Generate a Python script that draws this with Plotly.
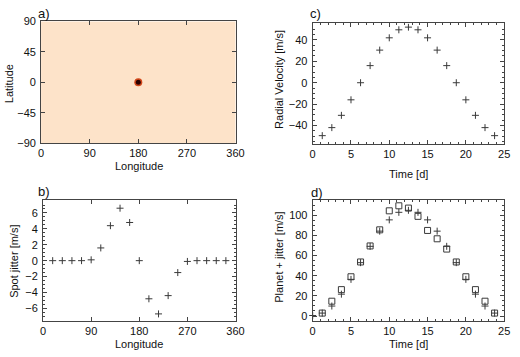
import plotly.graph_objects as go

# ---------------- data ----------------
# panel a: spot position on the stellar map
spot_lon = [180]
spot_lat = [0]

# panel b: spot jitter vs longitude
jit_lon = [18, 36, 54, 72, 90, 108, 126, 144, 162, 180, 198, 216, 234, 252, 270, 288, 306, 324, 342]
jit_val = [0, 0, 0, 0, 0.1, 1.6, 4.4, 6.6, 4.8, 0, -4.8, -6.7, -4.4, -1.5, -0.1, 0, 0, 0, 0]

# panel c: radial velocity vs time
rv_time = [1.25, 2.5, 3.75, 5, 6.25, 7.5, 8.75, 10, 11.25, 12.5, 13.75, 15, 16.25, 17.5, 18.75, 20, 21.25, 22.5, 23.75]
rv_val = [-49.5, -42, -30.5, -16, 0, 16, 30.5, 42, 49.5, 52, 49.5, 42, 30.5, 16, 0, -16, -30.5, -42, -49.5]

# panel d: planet (+) and planet + jitter (squares)
pl_time = [0, 1.25, 2.5, 3.75, 5, 6.25, 7.5, 8.75, 10, 11.25, 12.5, 13.75, 15, 16.25, 17.5, 18.75, 20, 21.25, 22.5, 23.75]
pl_val = [0.5, 2.9, 9.9, 21.7, 36.4, 53, 69.2, 84.3, 95.5, 103, 105, 103, 95.5, 84.3, 69.2, 53, 36.4, 21.7, 9.9, 2.9]
pj_time = [1.25, 2.5, 3.75, 5, 6.25, 7.5, 8.75, 10, 11.25, 12.5, 13.75, 15, 16.25, 17.5, 18.75, 20, 21.25, 22.5, 23.75]
pj_val = [2.9, 14.7, 26.2, 39, 53.7, 69.6, 85.6, 104.5, 109.5, 107.2, 99, 85, 76.7, 66.5, 53.7, 39, 26.2, 14.7, 2.9]

lon_ticks = [0, 90, 180, 270, 360]
lat_ticks = [-90, -45, 0, 45, 90]

# ---------------- styling ----------------
W, H = 520, 357
FONT = "Liberation Sans"
AX = "#444444"
MK = "#3a3a3a"


def px_x(a, b):
    return [a / W, b / W]


def px_y(top, bottom):
    return [1 - bottom / H, 1 - top / H]


fig = go.Figure()

# panel a
fig.add_trace(go.Scatter(x=spot_lon, y=spot_lat, mode="markers", xaxis="x", yaxis="y",
                         marker=dict(symbol="circle", size=8, color="#d2471a", line=dict(width=0)),
                         showlegend=False, hoverinfo="skip"))
fig.add_trace(go.Scatter(x=spot_lon, y=spot_lat, mode="markers", xaxis="x", yaxis="y",
                         marker=dict(symbol="circle", size=5, color="#2a0000", line=dict(width=0)),
                         showlegend=False, hoverinfo="skip"))

plus = dict(symbol="cross-thin", size=5, color=MK, line=dict(width=1, color=MK))

# panel b
fig.add_trace(go.Scatter(x=jit_lon, y=jit_val, mode="markers", xaxis="x2", yaxis="y2",
                         marker=plus, showlegend=False))

# panel c
fig.add_trace(go.Scatter(x=rv_time, y=rv_val, mode="markers", xaxis="x3", yaxis="y3",
                         marker=plus, showlegend=False))

# panel d
fig.add_trace(go.Scatter(x=pl_time, y=pl_val, mode="markers", xaxis="x4", yaxis="y4",
                         marker=plus, showlegend=False, cliponaxis=False))
fig.add_trace(go.Scatter(x=pj_time, y=pj_val, mode="markers", xaxis="x4", yaxis="y4",
                         marker=dict(symbol="square-open", size=6, color=MK, line=dict(width=1, color=MK)),
                         showlegend=False))

common = dict(showline=True, linecolor=AX, linewidth=1, mirror="ticks", ticks="inside",
              ticklen=4, tickcolor=AX, tickwidth=1, showgrid=False, zeroline=False,
              tickfont=dict(family=FONT, size=11, color="#111111"), fixedrange=True)
ycommon = dict(common, ticklabelstandoff=2)

layout = dict(
    width=W, height=H, margin=dict(l=0, r=0, t=0, b=0),
    paper_bgcolor="white", plot_bgcolor="white", showlegend=False,
    font=dict(family=FONT, size=11, color="#111111"),
    # panel a
    xaxis=dict(domain=px_x(39, 238), range=[0, 360], tickvals=lon_ticks, anchor="y", **common),
    yaxis=dict(domain=px_y(16, 142), range=[-90, 90], tickvals=lat_ticks, anchor="x", **ycommon),
    # panel b
    xaxis2=dict(domain=px_x(41, 238), range=[0, 360], tickvals=lon_ticks, anchor="y2", **common),
    yaxis2=dict(domain=px_y(201, 326), range=[-7.6, 7.6], dtick=2, anchor="x2",
                minor=dict(ticks="inside", ticklen=2, dtick=0.5, tickcolor=AX), **ycommon),
    # panel c
    xaxis3=dict(domain=px_x(317, 513), range=[0, 25], dtick=5, anchor="y3",
                minor=dict(ticks="inside", ticklen=2, dtick=1, tickcolor=AX), **common),
    yaxis3=dict(domain=px_y(18, 143), range=[-57.5, 55.5], dtick=20, anchor="x3",
                minor=dict(ticks="inside", ticklen=2, dtick=5, tickcolor=AX), **ycommon),
    # panel d
    xaxis4=dict(domain=px_x(317, 513), range=[0, 25], dtick=5, anchor="y4",
                minor=dict(ticks="inside", ticklen=2, dtick=1, tickcolor=AX), **common),
    yaxis4=dict(domain=px_y(201, 326), range=[-5, 115], dtick=20, anchor="x4",
                minor=dict(ticks="inside", ticklen=2, dtick=5, tickcolor=AX), **ycommon),
)
fig.update_layout(**layout)

# peach background for the map (panel a)
fig.add_shape(type="rect", xref="x domain", yref="y domain", x0=0, x1=1, y0=0, y1=1,
              fillcolor="#fde3c9", line=dict(width=0), layer="below")


def ann(text, x, y, size=11, angle=0):
    fig.add_annotation(text=text, x=x / W, y=1 - y / H, xref="paper", yref="paper",
                       showarrow=False, textangle=angle, xanchor="center", yanchor="middle",
                       font=dict(family=FONT, size=size, color="#111111"))


ann("a)", 42, 8, size=13)
ann("c)", 320, 8, size=13)
ann("b)", 42, 192, size=13)
ann("d)", 321, 193, size=13)

ann("Longitude", 139, 166)
ann("Longitude", 139, 350)
ann("Time [d]", 415, 174)
ann("Time [d]", 415, 350)
ann("Latitude", 6, 80, angle=-90)
ann("Spot jitter [m/s]", 11, 264, angle=-90)
ann("Radial Velocity [m/s]", 283, 76, angle=-90)
ann("Planet + jitter [m/s]", 283, 260, angle=-90)

fig.write_html("out.html", config={"displayModeBar": False},
               post_script="document.body.style.margin='0';document.body.style.padding='0';")
